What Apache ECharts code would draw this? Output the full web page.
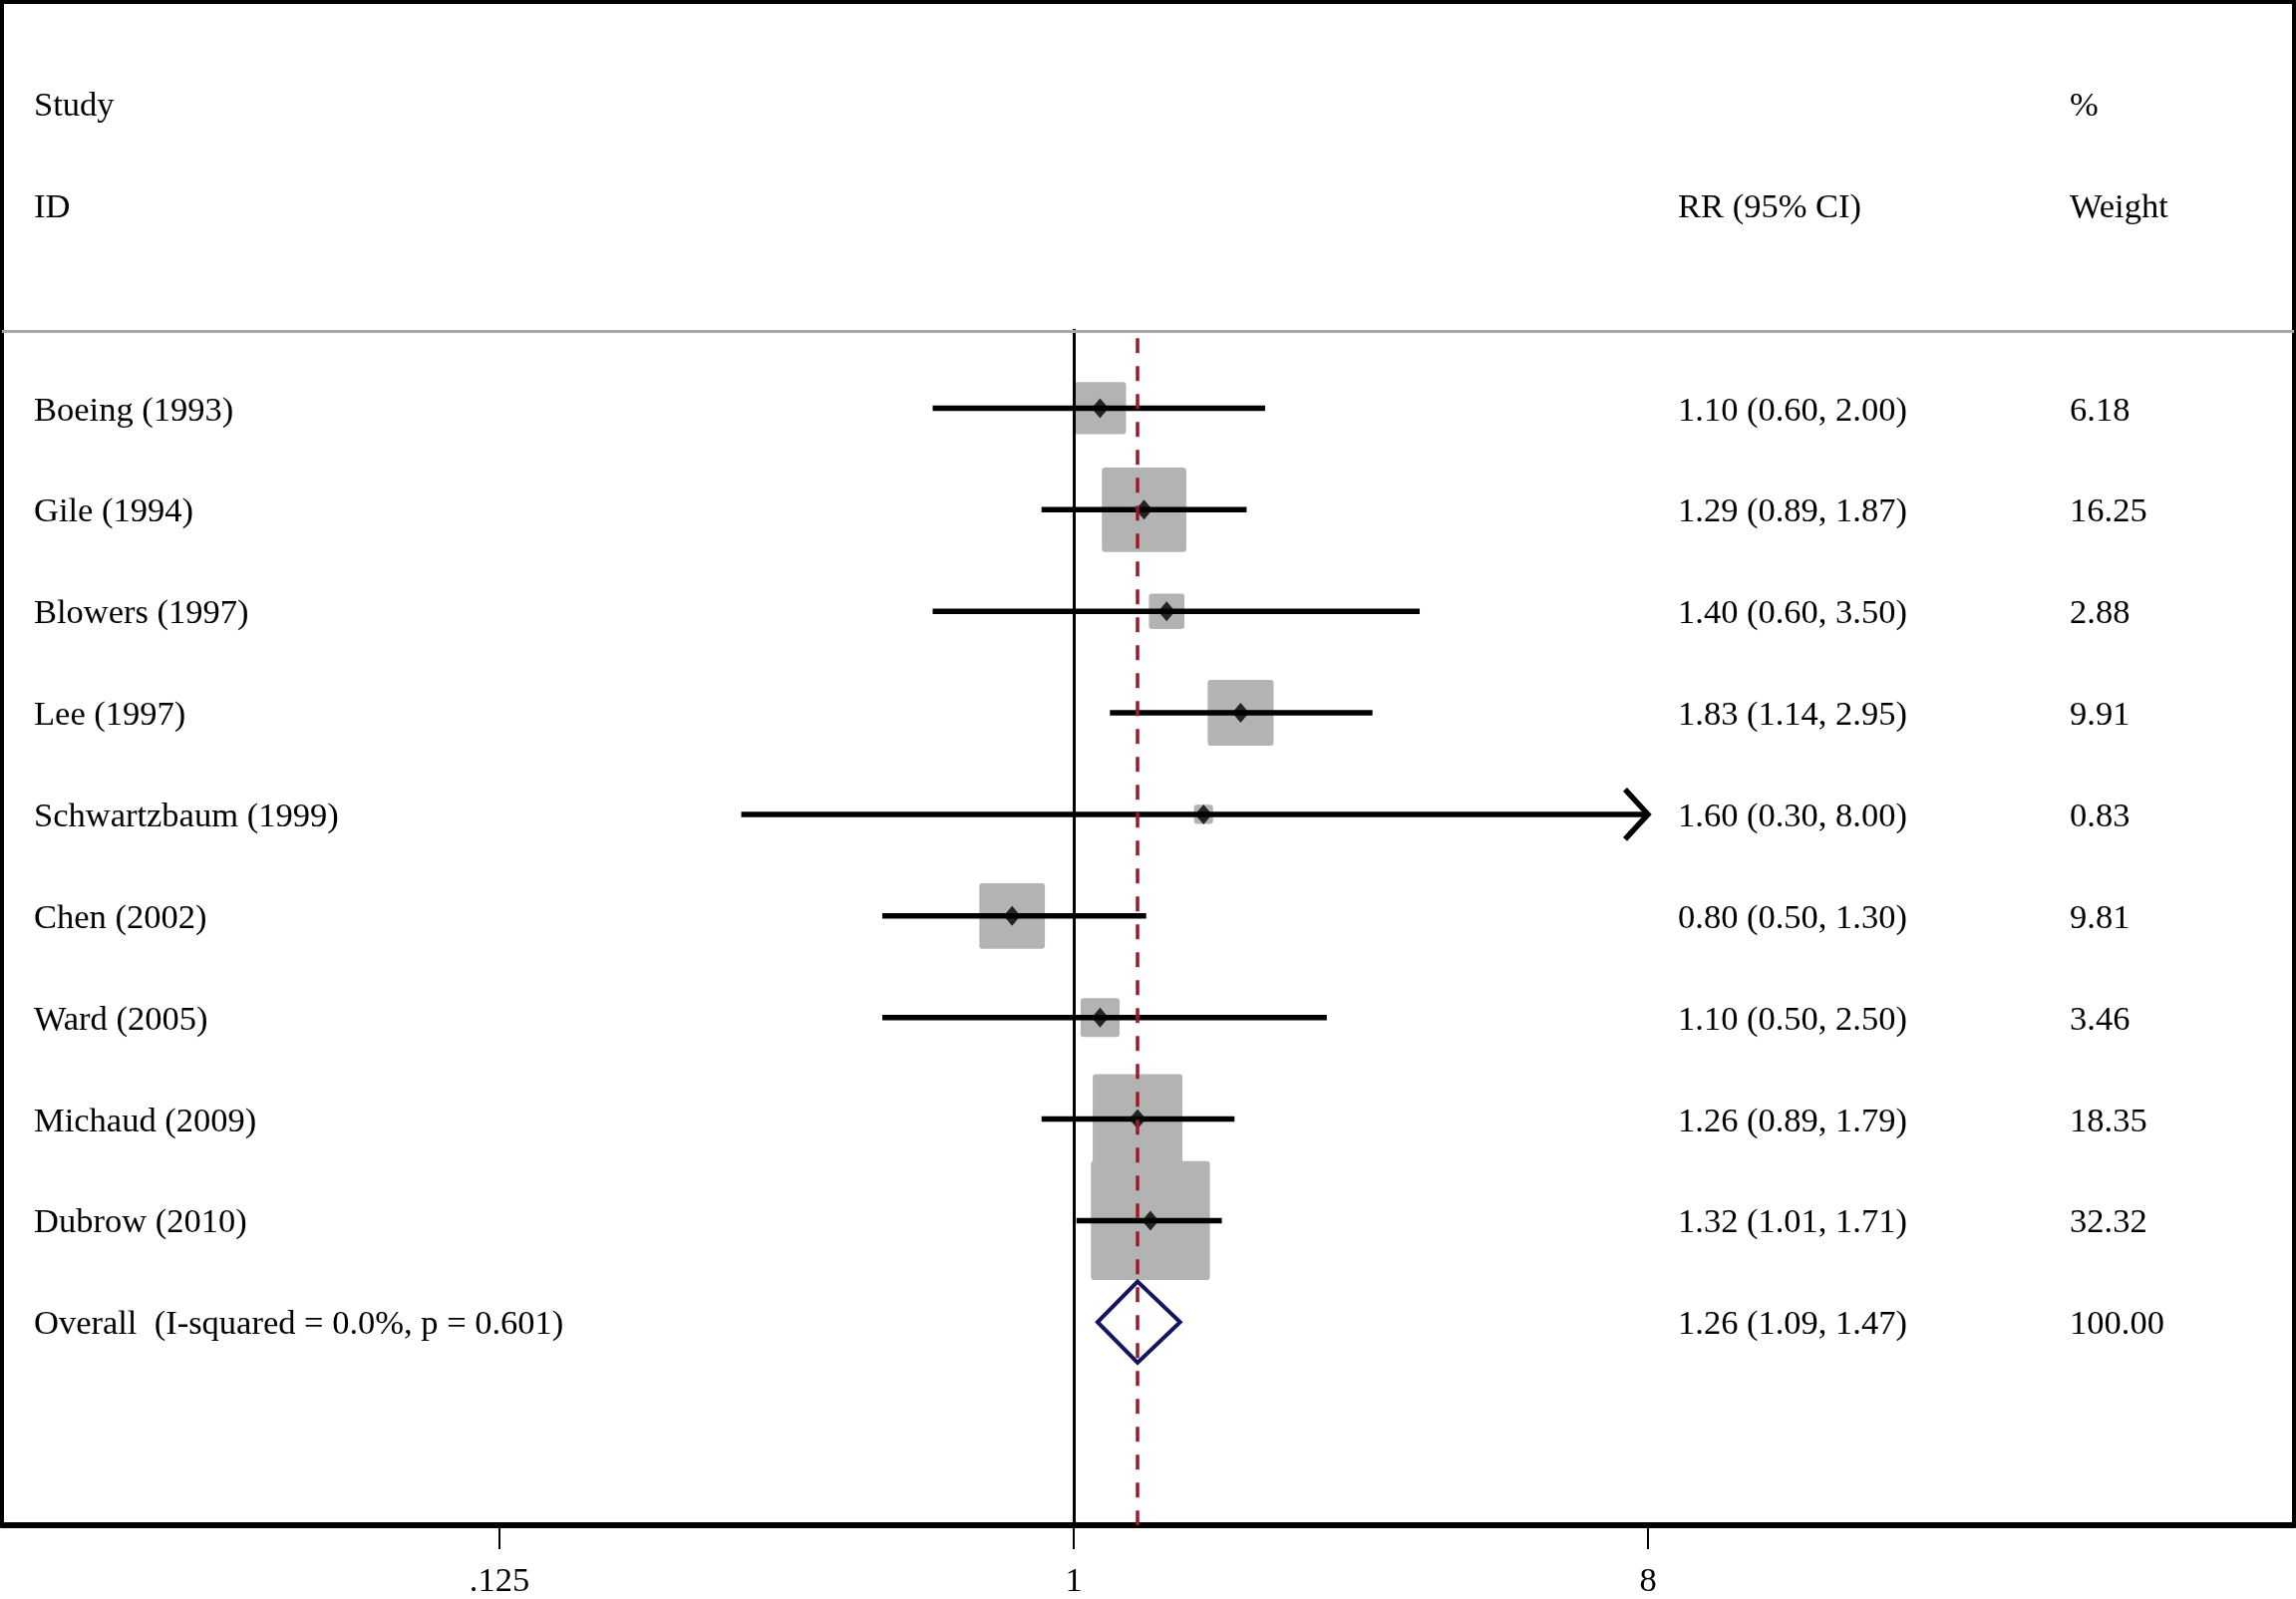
<!DOCTYPE html>
<html lang="en">
<head>
<meta charset="UTF-8">
<title>Forest plot</title>
<script src="https://cdn.jsdelivr.net/npm/echarts@6/dist/echarts.min.js"></script>
<style>
    html, body { margin: 0; padding: 0; background: #fff; }
    #main { width: 2303px; height: 1604px; }
</style>
</head>
<body>
<div id="main"></div>
<script>
    // study rows, top to bottom
    var studies = ['Boeing (1993)', 'Gile (1994)', 'Blowers (1997)', 'Lee (1997)', 'Schwartzbaum (1999)',
                   'Chen (2002)', 'Ward (2005)', 'Michaud (2009)', 'Dubrow (2010)'];
    var rr      = [1.10, 1.29, 1.40, 1.83, 1.60, 0.80, 1.10, 1.26, 1.32];
    var ciLow   = [0.60, 0.89, 0.60, 1.14, 0.30, 0.50, 0.50, 0.89, 1.01];
    var ciHigh  = [2.00, 1.87, 3.50, 2.95, 8.00, 1.30, 2.50, 1.79, 1.71];
    var weights = [6.18, 16.25, 2.88, 9.91, 0.83, 9.81, 3.46, 18.35, 32.32];

    var overallLabel = 'Overall  (I-squared = 0.0%, p = 0.601)';
    var overallRR = 1.26, overallLow = 1.09, overallHigh = 1.47, overallWeight = 100.00;

    var xTicks = [0.125, 1, 8];

    // axis range (log2 scale) so the axis runs the whole width
    var X_MIN = 0.02063, X_MAX = 83.0;
    var ARROW_AT = 8;          // CIs reaching this are clipped with an arrow
    var FONT = '34.5px "Liberation Serif", "Times New Roman", serif';
    var COL_X = [34, 1683, 2076];  // text columns: study, RR (95% CI), weight
    var TEXT_DY = 3;

    var overallRow = studies.length + 1;

    function f2(v) { return v.toFixed(2); }

    // text table: [row, study text, rr text, weight text]
    var textRows = [
        [-2, 'Study', '', '%'],
        [-1, 'ID', 'RR (95% CI)', 'Weight']
    ];
    studies.forEach(function (s, i) {
        textRows.push([i + 1, s, f2(rr[i]) + ' (' + f2(ciLow[i]) + ', ' + f2(ciHigh[i]) + ')', f2(weights[i])]);
    });
    textRows.push([overallRow, overallLabel,
        f2(overallRR) + ' (' + f2(overallLow) + ', ' + f2(overallHigh) + ')', f2(overallWeight)]);

    var ciData = studies.map(function (s, i) { return [ciLow[i], ciHigh[i], i + 1]; });
    var boxData = studies.map(function (s, i) { return [rr[i], i + 1, weights[i]]; });
    var pointData = studies.map(function (s, i) { return [rr[i], i + 1]; });

    var myChart = echarts.init(document.getElementById('main'));

    var option = {
        animation: false,
        backgroundColor: '#fff',
        grid: {
            left: 2, right: 2, top: 2, bottom: 69.5,
            show: true, borderColor: '#000', borderWidth: 4, backgroundColor: 'transparent'
        },
        xAxis: {
            type: 'log',
            logBase: 2,
            min: X_MIN,
            max: X_MAX,
            splitLine: {show: false},
            axisLine: {show: true, onZero: false, lineStyle: {color: '#000', width: 6}},
            axisTick: {show: true, customValues: xTicks, length: 24, lineStyle: {color: '#000', width: 2}},
            axisLabel: {
                customValues: xTicks,
                margin: 39,
                color: '#000',
                fontFamily: '"Liberation Serif", "Times New Roman", serif',
                fontSize: 34.5,
                formatter: function (v) {
                    var s = String(+v.toFixed(3));
                    return v < 1 ? s.replace(/^0/, '') : s;
                }
            }
        },
        yAxis: {
            type: 'value',
            min: -3,
            max: 12,
            inverse: true,
            show: false
        },
        series: [
            // reference lines
            {
                type: 'line',
                data: [],
                z: 1,
                markLine: {
                    silent: true,
                    symbol: 'none',
                    label: {show: false},
                    data: [
                        [{coord: [1, 0.22], lineStyle: {color: '#000', width: 3, type: 'solid'}},
                         {coord: [1, 12]}],
                        [{coord: [overallRR, 0.31], lineStyle: {color: '#9a1c26', width: 3.5, type: [15, 13]}},
                         {coord: [overallRR, 12]}],
                        {yAxis: 0.24, lineStyle: {color: '#a8a8a8', width: 3, type: 'solid'}}
                    ]
                }
            },
            // weight boxes
            {
                type: 'custom',
                z: 2,
                data: boxData,
                renderItem: function (params, api) {
                    var c = api.coord([api.value(0), api.value(1)]);
                    var s = 21 * Math.sqrt(api.value(2));
                    return {
                        type: 'rect',
                        shape: {x: c[0] - s / 2, y: c[1] - s / 2, width: s, height: s, r: 3},
                        style: {fill: '#b3b3b3'}
                    };
                }
            },
            // confidence intervals
            {
                type: 'custom',
                z: 3,
                data: ciData,
                renderItem: function (params, api) {
                    var lo = api.value(0), hi = api.value(1), row = api.value(2);
                    var capped = hi >= ARROW_AT;
                    var p1 = api.coord([lo, row]);
                    var p2 = api.coord([capped ? ARROW_AT : hi, row]);
                    var children = [{
                        type: 'line',
                        shape: {x1: p1[0], y1: p1[1], x2: p2[0], y2: p2[1]},
                        style: {stroke: '#000', lineWidth: 5.5}
                    }];
                    if (capped) {
                        children.push({
                            type: 'polyline',
                            shape: {points: [[p2[0] - 23, p2[1] - 25], [p2[0], p2[1]], [p2[0] - 23, p2[1] + 25]]},
                            style: {stroke: '#000', lineWidth: 5.5, fill: null}
                        });
                    }
                    return {type: 'group', children: children};
                }
            },
            // point estimates
            {
                type: 'scatter',
                z: 4,
                data: pointData,
                symbol: 'diamond',
                symbolSize: [17, 20],
                itemStyle: {color: '#000'}
            },
            // pooled estimate diamond
            {
                type: 'custom',
                z: 4,
                data: [[overallLow, overallRR, overallHigh, overallRow]],
                renderItem: function (params, api) {
                    var row = api.value(3);
                    var left = api.coord([api.value(0), row]);
                    var top = api.coord([api.value(1), row - 0.4]);
                    var right = api.coord([api.value(2), row]);
                    var bottom = api.coord([api.value(1), row + 0.4]);
                    return {
                        type: 'polygon',
                        shape: {points: [left, top, right, bottom]},
                        style: {stroke: '#14145f', lineWidth: 4, fill: 'none'}
                    };
                }
            },
            // text columns
            {
                type: 'custom',
                z: 5,
                data: textRows.map(function (r) { return [1, r[0]]; }),
                renderItem: function (params, api) {
                    var r = textRows[params.dataIndex];
                    var y = api.coord([1, api.value(1)])[1] + TEXT_DY;
                    var children = [];
                    for (var k = 0; k < 3; k++) {
                        if (!r[k + 1]) continue;
                        children.push({
                            type: 'text',
                            style: {
                                text: r[k + 1], x: COL_X[k], y: y,
                                font: FONT, fill: '#000',
                                align: 'left', verticalAlign: 'middle'
                            }
                        });
                    }
                    return {type: 'group', children: children};
                }
            }
        ]
    };

    myChart.setOption(option);
</script>
</body>
</html>
